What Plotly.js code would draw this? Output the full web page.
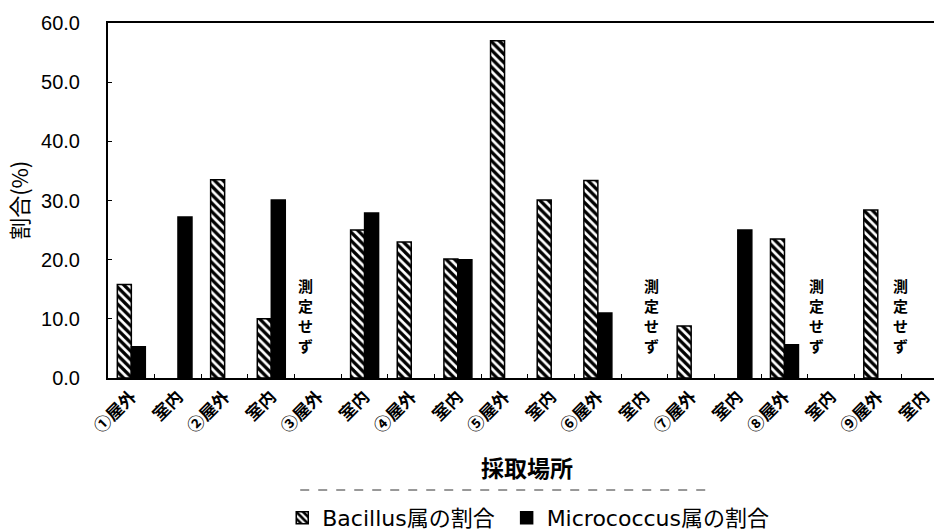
<!DOCTYPE html>
<html>
<head>
<meta charset="utf-8">
<script src="https://cdn.plot.ly/plotly-3.0.1.min.js"></script>
<style>html,body{margin:0;padding:0;background:#fff;}#chart{width:934px;height:532px;}</style>
</head>
<body>
<div id="chart"></div>
<script>
// Categories (sampling locations)
var categories = ["①屋外","室内","②屋外","室内 ","③屋外","室内  ","④屋外","室内   ","⑤屋外","室内    ","⑥屋外","室内     ","⑦屋外","室内      ","⑧屋外","室内       ","⑨屋外","室内        "];
var tickLabels = ["①屋外","室内","②屋外","室内","③屋外","室内","④屋外","室内","⑤屋外","室内","⑥屋外","室内","⑦屋外","室内","⑧屋外","室内","⑨屋外","室内"];
// Series values (%)
var bacillus = [15.8, null, 33.5, 10.0, null, 25.0, 23.0, 20.1, 57.0, 30.1, 33.4, null, 8.8, null, 23.5, null, 28.4, null];
var micrococcus = [5.3, 27.2, null, 30.1, null, 27.9, null, 20.0, null, null, 11.0, null, null, 25.0, 5.6, null, null, null];
var seriesNames = ["Bacillus属の割合", "Micrococcus属の割合"];
// "Not measured" notes
var notMeasuredPos = [3.73, 11.16, 14.68, 16.48];
var notMeasuredChars = ["測", "定", "せ", "ず"];
var yTicks = [0, 10, 20, 30, 40, 50, 60];

var L = 107.7, R = 934, T = 23, B = 378;
var W = R - L, H = B - T;
function px(x){ return (x - L) / W; }
function py(y){ return (B - y) / H; }

var traces = [
  {
    type: 'bar', name: seriesNames[0] + '\u00A0', x: categories, y: bacillus,
    marker: {color: '#ffffff', line: {color: '#000', width: 1.5},
      pattern: {shape: '\\', fgcolor: '#000', bgcolor: '#fff', size: 6, solidity: 0.55}}
  },
  {
    type: 'bar', name: seriesNames[1], x: categories, y: micrococcus,
    marker: {color: '#000000', line: {color: '#000', width: 1.5}}
  }
];

var annotations = [];
var unitPerPx = 60 / H;
notMeasuredPos.forEach(function(p){
  notMeasuredChars.forEach(function(c, i){
    annotations.push({x: p, y: 10.5 + (1.5 - i) * 20 * unitPerPx, xref: 'x', yref: 'y', text: c, showarrow: false,
      font: {family: 'Noto Sans CJK JP', size: 15, color: '#000', weight: 700}, xanchor: 'center', yanchor: 'middle'});
  });
});
annotations.push({x: px(17), y: 0.5, xref: 'paper', yref: 'paper', text: '割合(%)', textangle: -90,
  showarrow: false, xanchor: 'center', yanchor: 'middle',
  font: {family: 'Noto Sans CJK JP', size: 22, color: '#000'}});
annotations.push({x: px(527), y: py(467), xref: 'paper', yref: 'paper', text: '採取場所',
  showarrow: false, xanchor: 'center', yanchor: 'middle',
  font: {family: 'Noto Sans CJK JP', size: 23, color: '#000', weight: 700}});

var layout = {
  width: 934, height: 532,
  margin: {l: L, r: 0, t: T, b: 532 - B, autoexpand: false},
  paper_bgcolor: '#fff', plot_bgcolor: '#fff',
  barmode: 'group', bargap: 0.4, bargroupgap: 0,
  showlegend: true,
  legend: {orientation: 'h', x: px(282), xanchor: 'left', y: py(518), yanchor: 'middle',
    font: {family: 'DejaVu Sans, Noto Sans CJK JP', size: 22, color: '#000'},
    itemwidth: 30, traceorder: 'normal', bgcolor: 'rgba(0,0,0,0)'},
  xaxis: {
    type: 'category', range: [-0.5, 17.205],
    tickvals: categories, ticktext: tickLabels, tickangle: -45,
    tickfont: {family: 'Noto Sans CJK JP', size: 17, color: '#000', weight: 700},
    showline: true, linecolor: '#000', linewidth: 2, mirror: true,
    ticks: 'inside', ticklen: 4, tickcolor: '#000', tickson: 'boundaries',
    showgrid: false, zeroline: false, fixedrange: true
  },
  yaxis: {
    range: [0, 60], tickvals: yTicks, tickformat: '.1f',
    tickfont: {family: 'Liberation Sans, Arial', size: 20, color: '#000'},
    showline: true, linecolor: '#000', linewidth: 2,
    ticks: 'inside', ticklen: 4, tickcolor: '#000', ticklabelstandoff: 22,
    showgrid: false, zeroline: false, fixedrange: true
  },
  annotations: annotations,
  shapes: [
    {type: 'line', xref: 'paper', yref: 'paper', x0: px(300), x1: px(712), y0: py(490), y1: py(490),
      line: {color: '#333', width: 1, dash: 'dash'}}
  ]
};

Plotly.newPlot('chart', traces, layout, {displayModeBar: false, staticPlot: true});
</script>
</body>
</html>
